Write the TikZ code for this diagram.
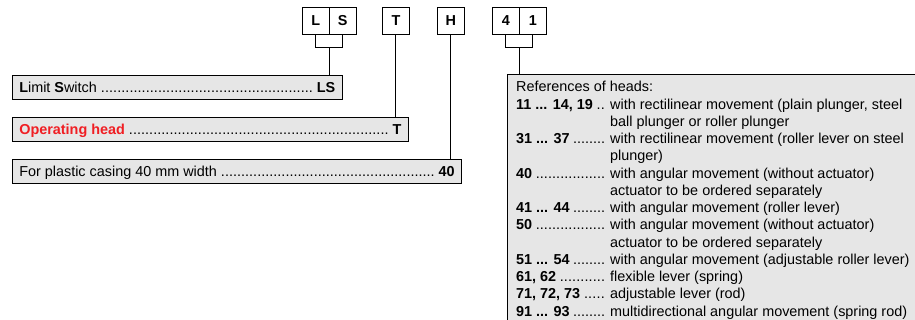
\documentclass[tikz,border=0pt]{standalone}
\usepackage{fontspec}
\setmainfont{Liberation Sans}
\usetikzlibrary{calc}
\definecolor{boxgray}{HTML}{E6E6E6}
\definecolor{headred}{HTML}{F01E23}
\newcommand{\dotrow}[3]{\hbox to #1{#2~\xleaders\hbox{.}\hfill~#3}}
\newcommand{\refrow}[2]{\hbox{\hbox to 94pt{\textbf{#1}\hskip 3.5pt\xleaders\hbox{.}\hfill\hskip 5pt}#2}}
\newcommand{\refcont}[1]{\hbox{\hskip 94pt #1}}
\begin{document}
\begin{tikzpicture}[x=1pt,y=-1pt,
  every node/.style={font=\fontsize{14.4}{17.25}\selectfont, inner sep=0pt},
  letterbox/.style={draw, line width=0.9pt, fill=white, minimum width=27pt, minimum height=27pt,
    font=\fontsize{14.4}{17.25}\selectfont\bfseries, text height=10.3pt, text depth=0pt},
  codebox/.style={draw, line width=0.9pt, fill=boxgray, text height=10.3pt, text depth=0pt,
    minimum height=24.3pt, inner xsep=7pt, inner ysep=0pt},
  conn/.style={line width=0.9pt}]
\clip (0,0) rectangle (915,320);
% letter boxes
\node[letterbox] (L) at (315.7,20.8) {L};
\node[letterbox] (S) at (342.7,20.8) {S};
\node[letterbox] (T) at (395.9,20.8) {T};
\node[letterbox] (H) at (450.9,20.8) {H};
\node[letterbox] (F) at (505.8,20.8) {4};
\node[letterbox] (O) at (532.8,20.8) {1};
% left code boxes
\node[codebox] (ls) at (177.3,87.2) {\dotrow{316pt}{\textbf{L}imit \textbf{S}witch}{\textbf{LS}}};
\node[codebox] (op) at (210.3,129.5) {\dotrow{382pt}{\textcolor{headred}{\textbf{Operating head}}}{\textbf{T}}};
\node[codebox] (pl) at (237,171.3) {\dotrow{435.4pt}{For plastic casing 40 mm width}{\textbf{40}}};
% right reference box
\node[draw, line width=0.9pt, fill=boxgray, anchor=north west, minimum width=430pt, minimum height=270pt] (refbox) at (506.5,74) {};
\node[anchor=base west] (refs) at (516,92) {\vtop{\baselineskip=17.25pt
  \hbox{References of heads:}
  \refrow{11 ... 14, 19}{with rectilinear movement (plain plunger, steel}
  \refcont{ball plunger or roller plunger}
  \refrow{31 ... 37}{with rectilinear movement (roller lever on steel}
  \refcont{plunger)}
  \refrow{40}{with angular movement (without actuator)}
  \refcont{actuator to be ordered separately}
  \refrow{41 ... 44}{with angular movement (roller lever)}
  \refrow{50}{with angular movement (without actuator)}
  \refcont{actuator to be ordered separately}
  \refrow{51 ... 54}{with angular movement (adjustable roller lever)}
  \refrow{61, 62}{flexible lever (spring)}
  \refrow{71, 72, 73}{adjustable lever (rod)}
  \refrow{91 ... 93}{multidirectional angular movement (spring rod)}}};
% connectors
\draw[conn] (L.south) -- ++(0,12.4) -| (S.south);
\coordinate (lsj) at ($(L.south)!.5!(S.south)+(0,12.4)$);
\draw[conn] (lsj) -- (lsj |- ls.north);
\draw[conn] (T.south) -- (T.south |- op.north);
\draw[conn] (H.south) -- (H.south |- pl.north);
\draw[conn] (F.south) -- ++(0,12.4) -| (O.south);
\coordinate (fj) at ($(F.south)!.5!(O.south)+(0,12.4)$);
\draw[conn] (fj) -- (fj |- refbox.north);
\end{tikzpicture}
\end{document}
